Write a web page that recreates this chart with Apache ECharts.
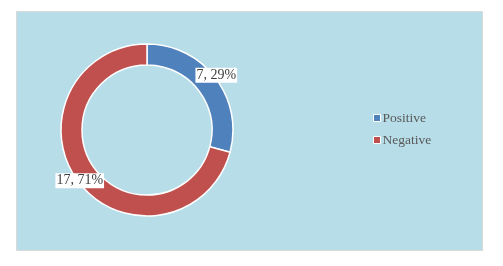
<!DOCTYPE html>
<html>
<head>
<meta charset="utf-8">
<script src="https://cdn.jsdelivr.net/npm/echarts@6/dist/echarts.min.js"></script>
<style>html,body{margin:0;padding:0;background:#fff;}#c{width:503px;height:266px;}</style>
</head>
<body>
<div id="c"></div>
<script>
const categories = ['Positive', 'Negative'];
const values = [7, 17];
const colors = ['#4F81BD', '#C0504D'];
const labelOffsets = [[7, -7], [-5, 3]];

const total = values.reduce((a, b) => a + b, 0);
const chart = echarts.init(document.getElementById('c'), null, {renderer: 'canvas'});
const font = '"Liberation Serif", "Times New Roman", serif';
chart.setOption({
  animation: false,
  graphic: [{
    type: 'rect', z: -10,
    shape: {x: 16.5, y: 11.5, width: 466, height: 239},
    style: {fill: '#B7DDE8', stroke: '#D9D9D9', lineWidth: 1}
  }],
  legend: {
    orient: 'vertical', left: 373, top: 111, padding: 0,
    itemWidth: 7, itemHeight: 7, itemGap: 8,
    icon: 'rect',
    itemStyle: {borderColor: '#fff', borderWidth: 1},
    textStyle: {fontFamily: font, fontSize: 13.5, color: '#595959', padding: [0, 0, 0, -3]},
    data: categories
  },
  series: [{
    type: 'pie',
    center: [147, 130],
    radius: [65, 86],
    startAngle: 90,
    clockwise: true,
    avoidLabelOverlap: false,
    itemStyle: {borderColor: '#fff', borderWidth: 1.5},
    label: {
      show: true, position: 'inside',
      fontFamily: font, fontSize: 14, color: '#404040',
      backgroundColor: '#fff', padding: [1, 1, 0, 1],
      formatter: p => p.value + ', ' + Math.round(p.value / total * 100) + '%'
    },
    labelLine: {show: false},
    data: categories.map((c, i) => ({
      name: c, value: values[i],
      itemStyle: {color: colors[i]},
      label: {offset: labelOffsets[i]}
    }))
  }]
});
</script>
</body>
</html>
